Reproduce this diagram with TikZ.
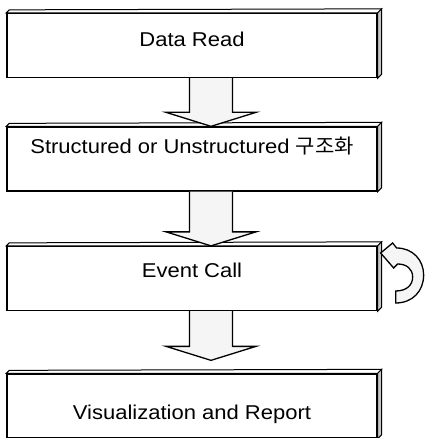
\documentclass[tikz,border=0pt]{standalone}
\usepackage{fontspec}
\setmainfont{Liberation Sans}[FakeStretch=1.1]
\newfontfamily\krfont{Noto Sans CJK KR}[FakeStretch=1.05]
\usetikzlibrary{calc, positioning}

\tikzset{
  stepbox/.style={draw, line width=1.3pt, minimum width=370pt, minimum height=64pt,
    inner sep=0pt, font=\fontsize{20}{24}\selectfont},
  textpos/.style 2 args={text height=#1, text depth=#2},
  topface/.style={draw, line width=1pt, fill=white},
  sideface/.style={draw, line width=1pt, fill=gray!45},
  blockarrow/.style={draw, line width=1.3pt, fill=gray!8, line join=miter}
}

% block arrow: from, to, gap above target
\newcommand{\flowarrow}[3]{%
  \draw[blockarrow] ($(#1.south)+(-2.5,0)$) -- ($(#2.north)+(-2.5,-#3-14)$)
    -- ($(#2.north)+(-26,-#3-14)$) -- ($(#2.north)+(19,-#3)$)
    -- ($(#2.north)+(64,-#3-14)$) -- ($(#2.north)+(40.5,-#3-14)$)
    -- ($(#1.south)+(40.5,0)$);}

\begin{document}
\begin{tikzpicture}[x=1pt, y=-1pt]
    \useasboundingbox (0,0) rectangle (426,438);

    % Etapes
    \node[stepbox, textpos={14pt}{11pt}] (read)   at (192,45.5)  {Data Read};
    \node[stepbox, textpos={14pt}{25pt}] (struct) at (192,159)   {Structured or Unstructured {\krfont 구조화}};
    \node[stepbox, textpos={14pt}{17pt}] (event)  at (192,278.5) {Event Call};
    \node[stepbox, textpos={27pt}{0pt}]  (report) at (192,406)   {Visualization and Report};

    % Faces 3D
    \foreach \n in {read,struct,event,report} {
        \draw[topface] (\n.north west) -- ++(3,-3) -- ($(\n.north east)+(4,-4)$) -- (\n.north east) -- cycle;
        \draw[sideface] (\n.north east) -- ++(4,-4) -- ($(\n.south east)+(4,-4)$) -- (\n.south east) -- cycle;
    }

    % Fleches
    \flowarrow{read}{struct}{0}
    \flowarrow{struct}{event}{0}
    \flowarrow{event}{report}{13}

    % Boucle sur Event Call
    \coordinate (loopc) at ($(event.east)+(21,-1.5)$);
    \draw[blockarrow] ($(loopc)+(-2,-29)$)
        .. controls ($(loopc)+(14,-29)$) and ($(loopc)+(25,-17)$) .. ($(loopc)+(25,-2)$)
        .. controls ($(loopc)+(25,14)$) and ($(loopc)+(14,26)$) .. ($(loopc)+(-3,26)$)
        -- ($(loopc)+(-3,14)$)
        .. controls ($(loopc)+(8,14)$) and ($(loopc)+(14,8)$) .. ($(loopc)+(14,0)$)
        .. controls ($(loopc)+(14,-8)$) and ($(loopc)+(8,-13)$) .. ($(loopc)+(-1,-13)$)
        -- ($(loopc)+(-5,-9)$) -- ($(loopc)+(-18,-24)$) -- ($(loopc)+(-6,-34)$) -- cycle;

\end{tikzpicture}
\end{document}
